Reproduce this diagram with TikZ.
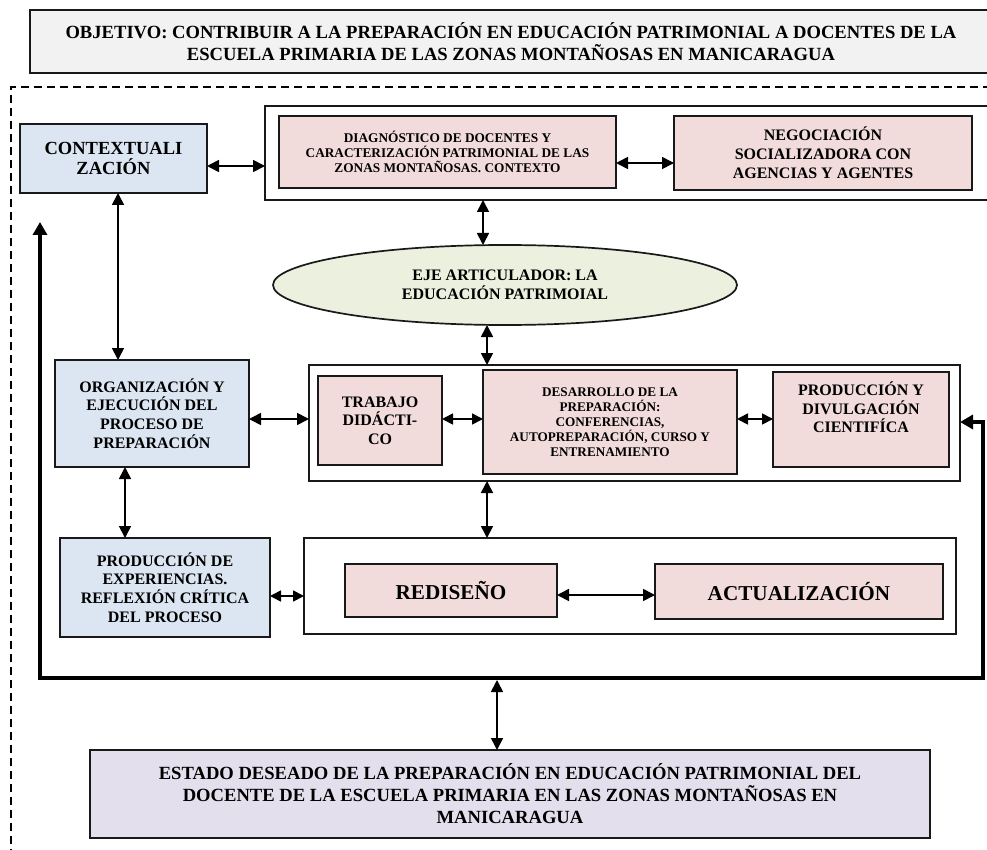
\documentclass[tikz,border=0pt]{standalone}
\usepackage{fontspec}
\setmainfont{Liberation Serif}
\usetikzlibrary{arrows.meta,shapes.geometric,calc}
\definecolor{cblue}{HTML}{DCE6F2}
\definecolor{cpink}{HTML}{F2DCDB}
\definecolor{cgreen}{HTML}{EBF1DE}
\definecolor{clav}{HTML}{E4DFEC}
\definecolor{cgray}{HTML}{F2F2F2}
\begin{document}
\begin{tikzpicture}[x=1pt,y=-1pt,
  box/.style={draw=black!90, line width=1.7pt, outer sep=0pt, inner sep=2pt, align=center},
  grp/.style={draw=black!90, line width=1.4pt, outer sep=0pt, inner sep=0pt},
  fa/.style={font=\bfseries\fontsize{13.3}{15.3}\selectfont},
  fb/.style={font=\bfseries\fontsize{16}{18.7}\selectfont},
  fc/.style={font=\bfseries\fontsize{18.6}{22}\selectfont},
  fd/.style={font=\bfseries\fontsize{18.5}{20}\selectfont},
  fe/.style={font=\bfseries\fontsize{21.2}{24}\selectfont},
  arr/.style={line width=1.7pt, {Triangle[length=12pt,width=12pt]}-{Triangle[length=12pt,width=12pt]}},
  sarr/.style={line width=1.7pt, {Triangle[length=11pt,width=11pt]}-{Triangle[length=11pt,width=11pt]}},
  loopline/.style={line width=4pt, line join=miter, {Triangle[length=13pt,width=14pt]}-{Triangle[length=13pt,width=14pt]}},
  frame/.style={line width=1.2pt, dash pattern=on 8pt off 5pt}]
\useasboundingbox (0,0) rectangle (987,850);
\fill[white] (0,0) rectangle (987,850);

% objective
\node[box, fill=cgray, fc, line width=1.8pt, minimum width=962pt, minimum height=63pt] (obj) at (511,41.5)
  {OBJETIVO: CONTRIBUIR A LA PREPARACIÓN EN EDUCACIÓN PATRIMONIAL A DOCENTES DE LA\\ESCUELA PRIMARIA DE LAS ZONAS MONTAÑOSAS EN MANICARAGUA};

% dashed frame
\coordinate (fa1) at (11,870);
\coordinate (fa2) at (11,87);
\coordinate (fa3) at (1000,87);
\draw[frame] (fa1) -- (fa2) -- (fa3);

% groups
\node[grp, minimum width=730pt, minimum height=94pt] (g1) at (630,153) {};
\node[grp, minimum width=651pt, minimum height=116pt] (g2) at (634.5,423) {};
\node[grp, minimum width=652pt, minimum height=96pt] (g3) at (630,586) {};

% boxes
\node[box, fill=cblue, fd, minimum width=187pt, minimum height=69pt] (ctx) at (113.5,158.5) {CONTEXTUALI\\ZACIÓN};
\node[box, fill=cpink, fa, minimum width=337pt, minimum height=72pt] (diag) at (447.5,152)
  {DIAGNÓSTICO DE DOCENTES Y\\CARACTERIZACIÓN PATRIMONIAL DE LAS\\ZONAS MONTAÑOSAS. CONTEXTO};
\node[box, fill=cpink, fb, font=\bfseries\fontsize{16}{19}\selectfont, minimum width=298pt, minimum height=74pt] (neg) at (823,153)
  {NEGOCIACIÓN\\SOCIALIZADORA CON\\AGENCIAS Y AGENTES};
\node[ellipse, draw=black!90, line width=1.7pt, fill=cgreen, fb, align=center, outer sep=0pt, inner sep=0pt,
  minimum width=464pt, minimum height=80pt] (ejea) at (505,285) {EJE ARTICULADOR: LA\\EDUCACIÓN PATRIMOIAL};
\node[box, fill=cblue, fb, minimum width=194pt, minimum height=107pt] (org) at (152,413.5)
  {ORGANIZACIÓN Y\\EJECUCIÓN DEL\\PROCESO DE\\PREPARACIÓN};
\node[box, fill=cpink, fb, minimum width=124pt, minimum height=89pt] (trab) at (380,420.5)
  {TRABAJO\\DIDÁCTI-\\CO};
\node[box, fill=cpink, fa, font=\bfseries\fontsize{13.2}{15}\selectfont, minimum width=254pt, minimum height=104pt] (des) at (610,422)
  {DESARROLLO DE LA\\PREPARACIÓN:\\CONFERENCIAS,\\AUTOPREPARACIÓN, CURSO Y\\ENTRENAMIENTO};
\node[box, fill=cpink, fb, minimum width=176pt, minimum height=95pt] (prod) at (861,419.5)
  {PRODUCCIÓN Y\\DIVULGACIÓN\\CIENTIFÍCA\\\strut};
\node[box, fill=cblue, fb, minimum width=210pt, minimum height=99pt] (pexp) at (165,587.5)
  {PRODUCCIÓN DE\\EXPERIENCIAS.\\REFLEXIÓN CRÍTICA\\DEL PROCESO};
\node[box, fill=cpink, fe, minimum width=212pt, minimum height=53pt] (red) at (451,590.5) {REDISEÑO};
\node[box, fill=cpink, fe, minimum width=288pt, minimum height=55pt] (act) at (799,591.5) {ACTUALIZACIÓN};
\node[box, fill=clav, fc, font=\bfseries\fontsize{18.6}{22}\selectfont, minimum width=840pt, minimum height=88pt] (estado) at (510,794)
  {ESTADO DESEADO DE LA PREPARACIÓN EN EDUCACIÓN PATRIMONIAL DEL\\DOCENTE DE LA ESCUELA PRIMARIA EN LAS ZONAS MONTAÑOSAS EN\\MANICARAGUA};

% arrows
\draw[arr] ([yshift=-7.5pt]ctx.east) -- ([yshift=-7.5pt]ctx.east -| g1.west);
\draw[arr] ([yshift=-11pt]diag.east) -- ([yshift=-11pt]diag.east -| neg.west);
\draw[arr] ([xshift=-22pt]ejea.north |- g1.south) -- ([xshift=-22pt]ejea.north);
\draw[arr] ([xshift=-18pt]ejea.south) -- ([xshift=-18pt]ejea.south |- g2.north);
\draw[arr] ([xshift=-147.5pt]g2.south) -- ([xshift=-147.5pt]g2.south |- g3.north);
\draw[arr] ([xshift=4.5pt]ctx.south) -- ([xshift=4.5pt]ctx.south |- org.north);
\draw[arr] ([xshift=-27pt]org.south) -- ([xshift=-27pt]org.south |- pexp.north);
\draw[arr] ([yshift=-5.5pt]org.east) -- ([yshift=-5.5pt]org.east -| g2.west);
\draw[sarr] ([yshift=1.5pt]trab.east) -- ([yshift=1.5pt]trab.east -| des.west);
\draw[sarr] ([yshift=3pt]des.east) -- ([yshift=3pt]des.east -| prod.west);
\draw[sarr] ([yshift=-8.5pt]pexp.east) -- ([yshift=-8.5pt]pexp.east -| g3.west);
\draw[arr] ([yshift=-4.5pt]red.east) -- ([yshift=-4.5pt]red.east -| act.west);

% feedback loop
\coordinate (lt) at (40,222);
\coordinate (lb) at (40,678);
\coordinate (rb) at (983,678);
\coordinate (rt) at (983,422);
\begin{scope}[shift={(1.8,1.8)}]
  \draw[gray!55, line width=4pt, line join=miter] (lb) -- (rb) -- (rt);
\end{scope}
\draw[loopline] (lt) -- (lb) -- (rb) -- (rt) -- (rt -| g2.east);

\coordinate (eb) at (497,680);
\draw[arr] (eb) -- (eb |- estado.north);
\end{tikzpicture}
\end{document}
